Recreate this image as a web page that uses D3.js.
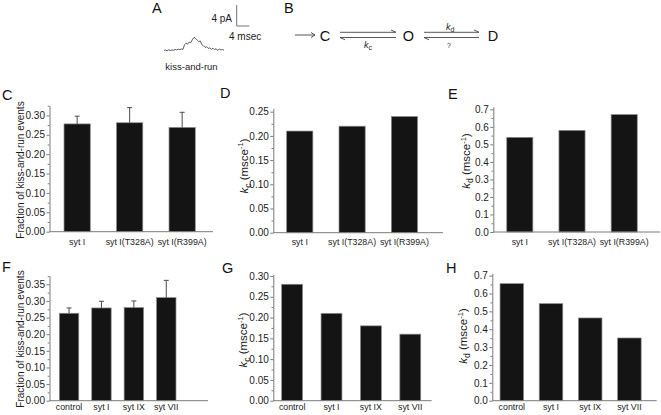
<!DOCTYPE html>
<html><head><meta charset="utf-8">
<script src="https://cdn.jsdelivr.net/npm/d3@7"></script>
<style>
html,body{margin:0;padding:0;background:#fff;}
svg{display:block;font-family:"Liberation Sans",Arial,Helvetica,sans-serif;}
</style></head>
<body>
<svg id="fig" width="661" height="415"></svg>
<script>
// ---------- DATA ----------
const topCats = ["syt I", "syt I(T328A)", "syt I(R399A)"];
const botCats = ["control", "syt I", "syt IX", "syt VII"];

const cVals = [0.278, 0.281, 0.269];   // fraction of kiss-and-run events
const cErr  = [0.020, 0.039, 0.039];
const dVals = [0.21, 0.22, 0.24];      // k_c
const eVals = [0.54, 0.58, 0.67];      // k_d

const fVals = [0.263, 0.279, 0.280, 0.310];
const fErr  = [0.016, 0.020, 0.020, 0.052];
const gVals = [0.28, 0.21, 0.18, 0.16];
const hVals = [0.655, 0.543, 0.463, 0.351];

const cTicks = [0, 0.05, 0.10, 0.15, 0.20, 0.25, 0.30];
const dTicks = [0, 0.05, 0.10, 0.15, 0.20, 0.25];
const eTicks = [0, 0.1, 0.2, 0.3, 0.4, 0.5, 0.6, 0.7];
const fTicks = [0, 0.05, 0.10, 0.15, 0.20, 0.25, 0.30, 0.35];
const gTicks = [0, 0.05, 0.10, 0.15, 0.20, 0.25, 0.30];
const hTicks = [0, 0.1, 0.2, 0.3, 0.4, 0.5, 0.6, 0.7];

// trace in panel A: time (ms) and current (pA)
const traceT = [0,0.5,1,1.5,2,2.5,3,3.5,4,4.5,5,5.5,6,6.5,7,7.5,8,8.5,9,9.5,10,10.5,11,11.5,12,12.5,13,13.5,14,14.5,15,15.5,16,16.5,17,17.5,18,18.5,19];
const traceI = [0,0.1,-0.05,0.15,0,0.1,0.05,0.2,0.1,0.25,0.15,0.3,0.2,1.1,1.4,1.2,1.6,1.5,2.1,2.5,2.3,2.0,1.7,1.8,1.1,0.9,0.6,0.7,0.4,0.5,0.2,0.45,0.15,0.35,0,0.3,0.1,0.2,0.05];

// ---------- LAYOUT ----------
const svg = d3.select("#fig");
const TXT = "#1c1c1c", AX = "#7a7a7a";

const panels = [
  {id:"C", cats:topCats, vals:cVals, err:cErr, ticks:cTicks, yMax:0.325, fmt:".2f",
   ax0:49.5, axEnd:213, y0:231.7, yTop:105.7, band:[50.9,208.4], pi:0.5, po:0.25,
   lab:[2,100], catY:249, ylab:{type:"frac", x:20.7, y:170}},
  {id:"D", cats:topCats, vals:dVals, ticks:dTicks, yMax:0.257, fmt:".2f",
   ax0:273.3, axEnd:443, y0:232.7, yTop:108.3, band:[273.6,430.6], pi:0.5, po:0.25,
   lab:[220,98], catY:249, ylab:{type:"k", sub:"c", x:243.5, y:166}},
  {id:"E", cats:topCats, vals:eVals, ticks:eTicks, yMax:0.715, fmt:".1f",
   ax0:493.3, axEnd:660, y0:232, yTop:106.7, band:[493.7,650.3], pi:0.5, po:0.25,
   lab:[448,99], catY:249, ylab:{type:"k", sub:"d", x:466, y:161}},
  {id:"F", cats:botCats, vals:fVals, err:fErr, ticks:fTicks, yMax:0.376, fmt:".2f",
   ax0:49.5, axEnd:208, y0:400.7, yTop:275.7, band:[49.6,185.7], pi:0.4, po:0.3,
   lab:[2,272], catY:414, ylab:{type:"frac", x:20.7, y:339}},
  {id:"G", cats:botCats, vals:gVals, ticks:gTicks, yMax:0.304, fmt:".2f",
   ax0:273.3, axEnd:431.7, y0:400.7, yTop:274.3, band:[273.8,428.6], pi:0.47, po:0.2,
   lab:[222,273], catY:414, ylab:{type:"k", sub:"c", x:243, y:340}},
  {id:"H", cats:botCats, vals:hVals, ticks:hTicks, yMax:0.713, fmt:".1f",
   ax0:492.3, axEnd:656.7, y0:400.7, yTop:273.3, band:[492.2,649], pi:0.4, po:0.2,
   lab:[446,273], catY:414, ylab:{type:"k", sub:"d", x:463, y:336}}
];

svg.append("rect").attr("width",661).attr("height",415).attr("fill","#fff");

panels.forEach(p => {
  const g = svg.append("g");
  const y = d3.scaleLinear().domain([0, p.yMax]).range([p.y0, p.yTop]);
  const x = d3.scaleBand().domain(p.cats).range(p.band).paddingInner(p.pi).paddingOuter(p.po);

  // bars
  g.selectAll("rect.bar").data(p.cats).join("rect")
    .attr("class","bar")
    .attr("x", d => x(d)).attr("width", x.bandwidth())
    .attr("y", (d,i) => y(p.vals[i])).attr("height", (d,i) => y(0) - y(p.vals[i]))
    .attr("fill","#141414").attr("stroke","#8a8a8a").attr("stroke-width",0.7);

  // error bars (upper only)
  if (p.err) {
    const eg = g.selectAll("g.err").data(p.cats).join("g").attr("class","err");
    eg.append("line")
      .attr("x1", d => x(d) + x.bandwidth()/2).attr("x2", d => x(d) + x.bandwidth()/2)
      .attr("y1", (d,i) => y(p.vals[i])).attr("y2", (d,i) => y(p.vals[i] + p.err[i]))
      .attr("stroke","#4a4a4a").attr("stroke-width",1);
    eg.append("line")
      .attr("x1", d => x(d) + x.bandwidth()/2 - 2.5).attr("x2", d => x(d) + x.bandwidth()/2 + 2.5)
      .attr("y1", (d,i) => y(p.vals[i] + p.err[i])).attr("y2", (d,i) => y(p.vals[i] + p.err[i]))
      .attr("stroke","#4a4a4a").attr("stroke-width",1);
  }

  // y axis (major)
  const ya = g.append("g").attr("transform",`translate(${p.ax0},0)`)
    .call(d3.axisLeft(y).tickValues(p.ticks).tickFormat(d3.format(p.fmt)).tickSizeInner(3).tickSizeOuter(0).tickPadding(1.5));
  ya.select(".domain").attr("stroke",AX);
  ya.selectAll(".tick line").attr("stroke",AX);
  ya.selectAll(".tick text").attr("fill",TXT).attr("font-size",10).attr("font-family","Liberation Sans, Arial, sans-serif");
  // minor ticks
  const step = p.ticks[1] - p.ticks[0];
  const minor = p.ticks.map(t => t + step/2).filter(t => t <= p.yMax);
  const ym = g.append("g").attr("transform",`translate(${p.ax0},0)`)
    .call(d3.axisLeft(y).tickValues(minor).tickFormat("").tickSizeInner(1.8).tickSizeOuter(0));
  ym.select(".domain").remove();
  ym.selectAll(".tick line").attr("stroke",AX);

  // x axis
  g.append("line").attr("x1",p.ax0).attr("x2",p.axEnd).attr("y1",p.y0).attr("y2",p.y0)
    .attr("stroke",AX).attr("stroke-width",1);
  g.selectAll("text.cat").data(p.cats).join("text").attr("class","cat")
    .attr("x", d => x(d) + x.bandwidth()/2).attr("y", p.catY - 4)
    .attr("text-anchor","middle").attr("font-size",9.8).attr("fill",TXT).text(d => d)
    .each(function(){
      const w = this.getComputedTextLength();
      d3.select(this).attr("textLength", w*0.9).attr("lengthAdjust","spacingAndGlyphs");
    });

  // panel letter
  g.append("text").attr("x",p.lab[0]).attr("y",p.lab[1]).attr("font-size",14.5).attr("fill","#111").text(p.id);

  // y label
  const yl = g.append("text").attr("transform",`translate(${p.ylab.x},${p.ylab.y}) rotate(-90)`)
    .attr("text-anchor","middle").attr("fill",TXT);
  if (p.ylab.type === "frac") {
    yl.attr("font-size",10).attr("dy","0.35em").text("Fraction of kiss-and-run events");
  } else {
    yl.attr("font-size",11.5);
    yl.append("tspan").attr("font-style","italic").attr("dy",4).text("k");
    yl.append("tspan").attr("font-size",8.5).attr("dy",3).text(p.ylab.sub);
    yl.append("tspan").attr("dy",-3).text(" (msce");
    yl.append("tspan").attr("font-size",7.5).attr("dy",-4.5).text("-1");
    yl.append("tspan").attr("dy",4.5).text(")");
  }
});

// ---------- PANEL A ----------
const A = svg.append("g");
A.append("text").attr("x",152).attr("y",13).attr("font-size",14.5).attr("fill","#111").text("A");
const tx = d3.scaleLinear().domain([0,19]).range([164,224]);
const ty = d3.scaleLinear().domain([0,4]).range([50.5,29.5]);
A.append("path").datum(traceT.map((t,i)=>[t,traceI[i]]))
  .attr("d", d3.line().x(d=>tx(d[0])).y(d=>ty(d[1])))
  .attr("fill","none").attr("stroke","#333").attr("stroke-width",0.8);
// scale bar: 4 pA x 4 msec
const sbx = 236.7, sby = 26;
const sbH = ty(0) - ty(4), sbW = tx(4) - tx(0);
A.append("path").attr("d",`M${sbx},${sby-sbH}V${sby}H${sbx+sbW}`).attr("fill","none").attr("stroke","#777").attr("stroke-width",1);
A.append("text").attr("x",232).attr("y",22).attr("text-anchor","end").attr("font-size",10).attr("fill",TXT).text("4 pA");
A.append("text").attr("x",229).attr("y",39.5).attr("font-size",10).attr("fill",TXT).text("4 msec");
A.append("text").attr("x",191.5).attr("y",70).attr("text-anchor","middle").attr("font-size",9.5).attr("fill",TXT).text("kiss-and-run");

// ---------- PANEL B ----------
const B = svg.append("g");
B.append("text").attr("x",284).attr("y",13).attr("font-size",14.5).attr("fill","#111").text("B");
const st = "#444";
B.append("path").attr("d","M295,35H315M311,32.5L315,35L311,37.5").attr("fill","none").attr("stroke",st).attr("stroke-width",0.9);
const states = [["C",325],["O",408.5],["D",493]];
states.forEach(s => B.append("text").attr("x",s[1]).attr("y",40.5).attr("text-anchor","middle").attr("font-size",14.5).attr("fill","#111").text(s[0]));
[[340,396],[424,479]].forEach(r => {
  B.append("path").attr("d",`M${r[0]},32.3H${r[1]}L${r[1]-5},30`).attr("fill","none").attr("stroke",st).attr("stroke-width",0.9);
  B.append("path").attr("d",`M${r[1]},37.5H${r[0]}L${r[0]+5},39.8`).attr("fill","none").attr("stroke",st).attr("stroke-width",0.9);
});
const kc = B.append("text").attr("x",364).attr("y",47.5).attr("font-size",9).attr("fill",TXT);
kc.append("tspan").attr("font-style","italic").text("k");
kc.append("tspan").attr("font-size",7).attr("dy",2).text("c");
const kd = B.append("text").attr("x",446).attr("y",29.5).attr("font-size",9).attr("fill",TXT);
kd.append("tspan").attr("font-style","italic").text("k");
kd.append("tspan").attr("font-size",7).attr("dy",2).text("d");
B.append("text").attr("x",449).attr("y",47.5).attr("text-anchor","middle").attr("font-size",7).attr("fill",TXT).text("?");
</script>
</body></html>
